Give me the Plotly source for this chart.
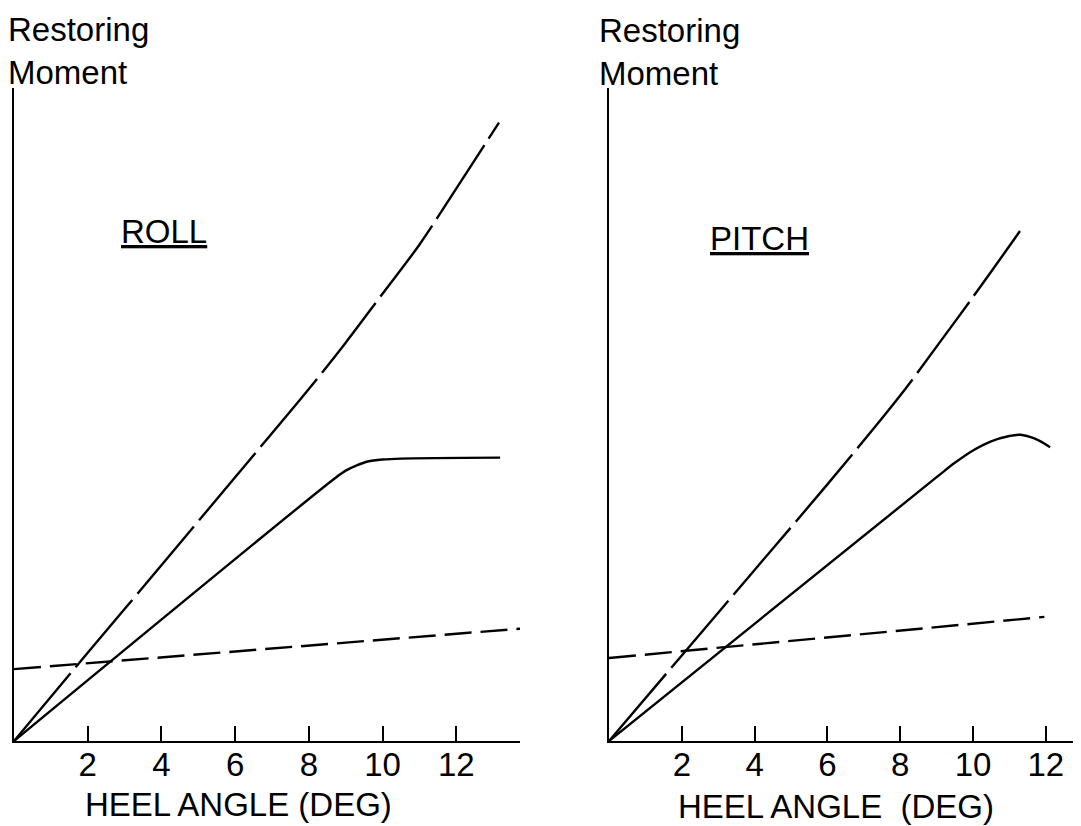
import plotly.graph_objects as go

# ---- data ----
tick_vals = [2, 4, 6, 8, 10, 12]
tick_text = ["2", "4", "6", "8", "10", "12"]

roll_steep_x = [0, 2, 4, 6, 8, 9, 10, 11, 12, 13.16]
roll_steep_y = [0, 1.35, 2.69, 4.04, 5.39, 6.10, 6.85, 7.60, 8.46, 9.47]
roll_solid_x = [0, 8.7, 9.0, 9.3, 9.6, 10.0, 10.5, 13.19]
roll_solid_y = [0, 4.02, 4.14, 4.22, 4.28, 4.31, 4.325, 4.34]
roll_flat_x = [0, 13.73]
roll_flat_y = [1.10, 1.72]

pitch_steep_x = [0, 2, 4, 6, 8, 9, 10, 11, 11.29]
pitch_steep_y = [0, 1.31, 2.62, 3.93, 5.29, 6.04, 6.80, 7.58, 7.81]
pitch_solid_x = [0, 9, 9.5, 10, 10.5, 11, 11.3, 11.7, 12.12]
pitch_solid_y = [0, 4.04, 4.26, 4.45, 4.59, 4.67, 4.69, 4.63, 4.50]
pitch_flat_x = [0, 11.96]
pitch_flat_y = [1.27, 1.90]

W, H = 1081, 826
OFF = 8  # the page body margin shifts the figure by this many pixels
FONT = "Liberation Sans, Arial, sans-serif"
BLACK = "#000000"

LONG_DASH = "88px,8px"
SHORT_DASH = "27px,9px"

fig = go.Figure()

def add(x, y, axis, dash, shape="spline"):
    fig.add_trace(go.Scatter(
        x=x, y=y, mode="lines", xaxis="x" + axis, yaxis="y" + axis,
        line=dict(color=BLACK, width=2.4, dash=dash, shape=shape, smoothing=0.9),
        showlegend=False, hoverinfo="skip"))

add(roll_steep_x, roll_steep_y, "", LONG_DASH)
add(roll_solid_x, roll_solid_y, "", "solid")
add(roll_flat_x, roll_flat_y, "", SHORT_DASH, "linear")
add(pitch_steep_x, pitch_steep_y, "2", LONG_DASH)
add(pitch_solid_x, pitch_solid_y, "2", "solid")
add(pitch_flat_x, pitch_flat_y, "2", SHORT_DASH, "linear")

def fx(px):
    return (px - OFF) / W

def fy(py):
    return 1 - (py - OFF) / H

xaxis_common = dict(
    showline=True, linewidth=2, linecolor=BLACK, showgrid=False, zeroline=False,
    ticks="inside", ticklen=15, tickwidth=2, tickcolor=BLACK,
    tickvals=tick_vals, ticktext=tick_text, ticklabelstandoff=-7,
    tickfont=dict(family=FONT, size=33, color=BLACK),
)
yaxis_common = dict(
    showline=True, linewidth=2, linecolor=BLACK, showgrid=False, zeroline=False,
    showticklabels=False, ticks="", range=[0, 10], domain=[fy(741), fy(88)],
)

fig.update_layout(
    width=W, height=H, margin=dict(l=0, r=0, t=0, b=0),
    paper_bgcolor="white", plot_bgcolor="white",
    xaxis=dict(**xaxis_common, anchor="y", domain=[fx(14), fx(520)], range=[0, 13.73]),
    yaxis=dict(**yaxis_common, anchor="x"),
    xaxis2=dict(**xaxis_common, anchor="y2", domain=[fx(609), 1.0],
                range=[0, (W + OFF - 609) / 36.4]),
    yaxis2=dict(**yaxis_common, anchor="x2"),
)

def text(s, px, py, size, xanchor="left", yanchor="top", align="left"):
    fig.add_annotation(
        text=s, x=fx(px), y=fy(py), xref="paper", yref="paper",
        xanchor=xanchor, yanchor=yanchor, align=align, showarrow=False,
        font=dict(family=FONT, size=size, color=BLACK))

text("Restoring<br>Moment", 6, 9, 33)
text("Restoring<br>Moment", 597, 10, 33)
text("<u>ROLL</u>", 164, 231, 33, "center", "middle")
text("<u>PITCH</u>", 759, 239, 33, "center", "middle")
text("HEEL ANGLE (DEG)", 238, 804, 33, "center", "middle")
text("HEEL ANGLE  (DEG)", 836, 806, 33, "center", "middle")

fig.write_html("out.html")
